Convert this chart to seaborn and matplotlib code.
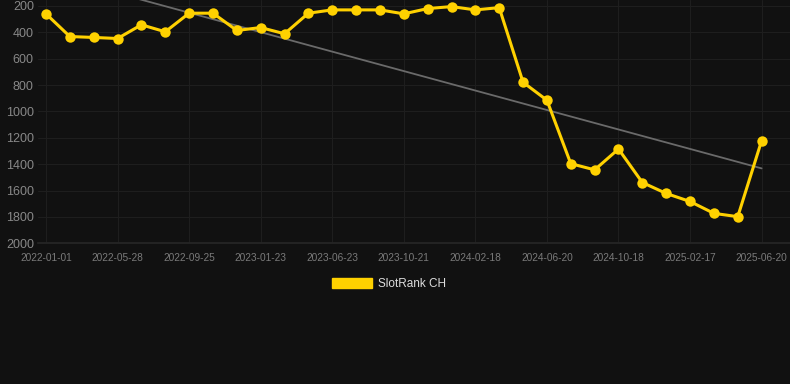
import matplotlib
matplotlib.use("Agg")
import matplotlib.pyplot as plt
from matplotlib.patches import Patch
import numpy as np
import pandas as pd
import seaborn as sns

# sample dates (only every third one is labelled on the axis)
dates = [
    "2022-01-01", "2022-02-19", "2022-04-09",
    "2022-05-28", "2022-07-07", "2022-08-16",
    "2022-09-25", "2022-11-04", "2022-12-14",
    "2023-01-23", "2023-03-14", "2023-05-03",
    "2023-06-23", "2023-08-02", "2023-09-11",
    "2023-10-21", "2023-11-30", "2024-01-09",
    "2024-02-18", "2024-03-29", "2024-05-09",
    "2024-06-20", "2024-07-30", "2024-09-08",
    "2024-10-18", "2024-11-27", "2025-01-07",
    "2025-02-17", "2025-03-29", "2025-05-09",
    "2025-06-20",
]
rank = [
    260, 432, 439, 447, 343, 396, 255, 255, 386, 364, 411,
    255, 230, 230, 230, 260, 220, 205, 230, 213, 779, 915,
    1396, 1443, 1285, 1539, 1622, 1683, 1773, 1798, 1222,
]
series_name = "SlotRank CH"
yticks = [200, 400, 600, 800, 1000, 1200, 1400, 1600, 1800, 2000]

BG = "#111111"
GOLD = "#FFD100"
GRID = "#1e1e1e"

sns.set_theme(style="dark")
plt.rcParams.update({
    "figure.facecolor": BG,
    "axes.facecolor": BG,
    "savefig.facecolor": BG,
})
plt.rcParams["font.family"] = ["Liberation Sans", "DejaVu Sans"]

df = pd.DataFrame({"idx": np.arange(len(rank)), "date": dates, "rank": rank})
coef = np.polyfit(df["idx"], df["rank"], 1)
df["trend"] = np.polyval(coef, df["idx"])

fig = plt.figure(figsize=(7.9, 3.84), dpi=100)
ax = fig.add_axes([38 / 790, 1 - 243.3 / 384, 752 / 790, 243.3 / 384])

sns.lineplot(data=df, x="idx", y="trend", color="#6a6a6a", linewidth=1.3, ax=ax)
sns.lineplot(data=df, x="idx", y="rank", color=GOLD, linewidth=2.2,
             marker="o", markersize=7.5, markeredgewidth=0, ax=ax)

ax.set_xlim(-0.335, 31.19)
ax.set_ylim(2000, 155)
ax.set_yticks(yticks)
ax.set_yticklabels([str(t) for t in yticks], fontsize=9, color="#888888")
tick_idx = list(range(0, len(dates), 3))
ax.set_xticks(tick_idx)
ax.set_xticklabels([dates[i] for i in tick_idx], fontsize=7.3, color="#7a7a7a")
ax.tick_params(axis="x", length=5, color=GRID, pad=2)
ax.tick_params(axis="y", length=0, pad=3)
ax.grid(True, color=GRID, linewidth=0.8)
ax.set_xlabel("")
ax.set_ylabel("")
for side in ["top", "right", "left"]:
    ax.spines[side].set_visible(False)
ax.spines["bottom"].set_color("#262626")

handle = Patch(facecolor=GOLD, edgecolor=GOLD, label=series_name)
leg = fig.legend(handles=[handle], loc="center", bbox_to_anchor=(389 / 790, 1 - 284 / 384),
                 frameon=False, fontsize=8.5, handlelength=3.4, handleheight=0.95,
                 handletextpad=0.5)
for t in leg.get_texts():
    t.set_color("#dddddd")

fig.savefig("out.png", dpi=100, facecolor=BG)
